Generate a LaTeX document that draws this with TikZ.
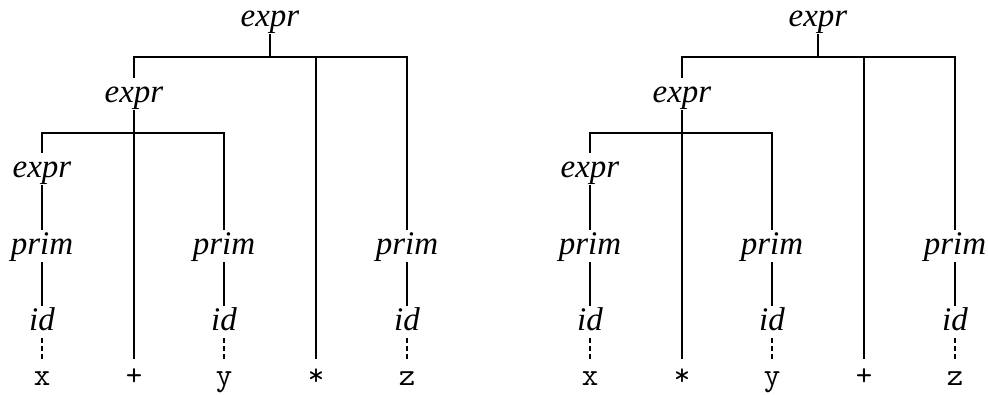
\documentclass[tikz,border=0pt]{standalone}
\usepackage{fontspec}
\setmainfont{Liberation Serif}
\tikzset{
  cat/.style={font=\fontsize{33}{36}\selectfont\itshape, inner sep=0pt,
              text height=24pt, text depth=8pt, anchor=base},
  term/.style={cat, font=\fontsize{32}{34}\selectfont\ttfamily, text height=26pt},
  edge/.style={line width=2pt, black},
  lexedge/.style={edge, dash pattern=on 5pt off 3pt},
}

\begin{document}
\begin{tikzpicture}[x=1pt, y=-1pt]
\useasboundingbox (0,0) rectangle (988,394);
% two parse trees, operators swapped
\foreach \t/\dx/\opa/\opb in {l/0/+/*, r/548/*/+} {
  \begin{scope}[xshift=\dx pt]
  \coordinate (\t-bar1) at (0,57);
  \coordinate (\t-bar2) at (0,133);
  \node[cat] (\t-top) at (270,26) {expr};
  \node[cat] (\t-lhs) at (134,102) {expr};
  \node[cat] (\t-lhs2) at (42,177) {expr};
  \node[term] (\t-opa) at (134,385) {\opa};
  \node[term] (\t-opb) at (316,385) {\opb};
  \foreach \i/\px/\v in {1/42/x, 2/224/y, 3/407/z} {
    \node[cat] (\t-p\i) at (\px,254) {prim};
    \node[cat] (\t-id\i) at (\px,330) {id};
    \node[term] (\t-\v) at (\px,385) {\v};
    \draw[edge] (\t-p\i.south) -- (\t-id\i.north);
    \draw[lexedge] (\t-id\i.south) -- (\t-\v.north);
  }
  % upper level
  \draw[edge] (\t-top.south) -- (\t-top.south |- \t-bar1);
  \draw[edge] (\t-lhs.north) -- (\t-lhs.north |- \t-bar1)
    -- (\t-p3.north |- \t-bar1) -- (\t-p3.north);
  \draw[edge] (\t-opb.north) -- (\t-opb.north |- \t-bar1);
  % lower level
  \draw[edge] (\t-lhs.south) -- (\t-opa.north);
  \draw[edge] (\t-lhs2.north) -- (\t-lhs2.north |- \t-bar2)
    -- (\t-p2.north |- \t-bar2) -- (\t-p2.north);
  \draw[edge] (\t-lhs2.south) -- (\t-p1.north);
  \end{scope}
}
\end{tikzpicture}
\end{document}
